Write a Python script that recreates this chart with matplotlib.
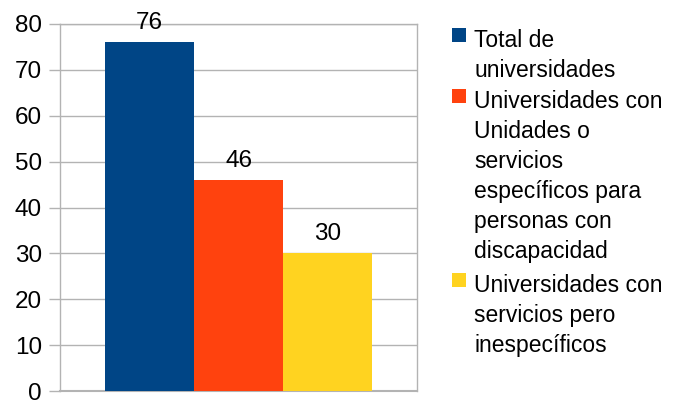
import matplotlib.pyplot as plt
from matplotlib.patches import Rectangle

plt.rcParams['font.family'] = ['Liberation Sans', 'DejaVu Sans']

series = ["Total de\nuniversidades",
          "Universidades con\nUnidades o\nservicios\nespecíficos para\npersonas con\ndiscapacidad",
          "Universidades con\nservicios pero\ninespecíficos"]
values = [76, 46, 30]
colors = ['#004586', '#ff420e', '#ffd320']
yticks = [0, 10, 20, 30, 40, 50, 60, 70, 80]

W, H = 682, 400
fig = plt.figure(figsize=(W / 100, H / 100), dpi=100)
ax = fig.add_axes([60 / W, 9 / H, 357 / W, 367 / H])

grey = '#b3b3b3'
xs = range(len(values))
bars = ax.bar(xs, values, width=1.0, color=colors, zorder=3)
for b, v in zip(bars, values):
    ax.annotate(str(v), (b.get_x() + b.get_width() / 2, v), xytext=(0, 9.5),
                textcoords='offset points', ha='center', va='baseline',
                fontsize=17.5, color='black')

ax.set_xlim(-1, 3)
ax.set_ylim(0, 80)
ax.set_yticks(yticks)
ax.set_xticks([])
ax.yaxis.grid(True, color=grey, linewidth=1, zorder=0)
ax.tick_params(axis='y', length=8, width=1, color=grey, pad=5,
               labelsize=17.5, labelcolor='black')
for s in ['left', 'right', 'top', 'bottom']:
    ax.spines[s].set_color(grey)
    ax.spines[s].set_linewidth(1)
ax.spines['bottom'].set_linewidth(1.5)

# legend drawn by hand so the marker sits on the first line of each label
y0 = [28, 89, 273]
for lab, col, top in zip(series, colors, y0):
    fig.patches.append(Rectangle((452 / W, 1 - (top + 14) / H), 14 / W, 14 / H,
                                 transform=fig.transFigure, facecolor=col,
                                 edgecolor='none'))
    for i, line in enumerate(lab.split('\n')):
        base = top + 19 + i * 30
        fig.text(474 / W, 1 - base / H, line, fontsize=16.5, ha='left',
                 va='baseline', color='black')

fig.savefig('out.png', dpi=100)
